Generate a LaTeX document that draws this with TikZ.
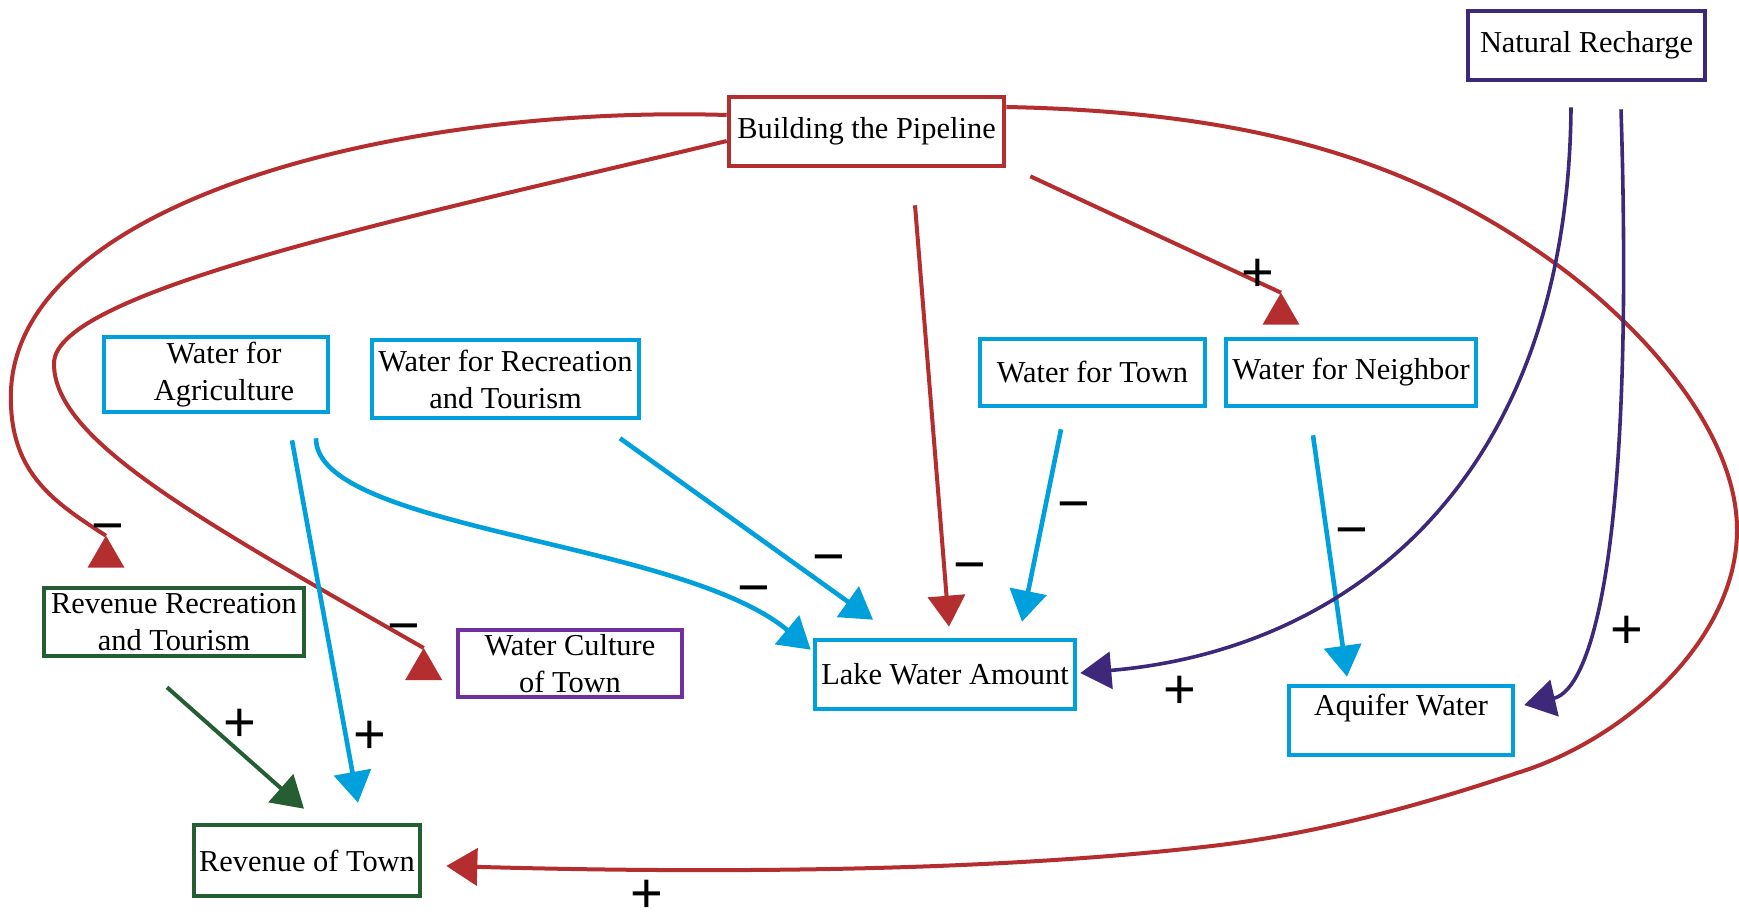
\documentclass[tikz,border=0pt]{standalone}
\usepackage{fontspec}
\setmainfont{Liberation Serif}
\newfontfamily\signfont{Liberation Sans}
\usetikzlibrary{arrows.meta,calc}

\definecolor{pipered}{RGB}{180,46,48}
\definecolor{lakeblue}{RGB}{0,160,220}
\definecolor{rechargeviolet}{RGB}{62,40,122}
\definecolor{revgreen}{RGB}{38,94,52}
\definecolor{culturepurple}{RGB}{112,48,160}

% upright triangular head sitting under the end of a connector
\newcommand\uptip[2]{\fill[#1] (#2) -- ++(-18.5,32) -- ++(37,0) -- cycle;}

\begin{document}
\begin{tikzpicture}[x=0.5pt,y=-0.5pt,
  box/.style={draw, line width=2.3pt, inner sep=0pt, align=center,
    font=\fontsize{15.2}{18.5}\selectfont},
  redlink/.style={line width=2pt, pipered},
  bluelink/.style={line width=2.3pt, lakeblue},
  violetlink/.style={line width=1.8pt, rechargeviolet},
  greenlink/.style={line width=2pt, revgreen},
  head/.style={-{Triangle[length=15.5pt,width=18.5pt]}},
  sign/.style={font=\signfont\fontsize{28}{28}\selectfont,
    text height=19.6pt, text depth=0pt, inner sep=0pt}
]
\fill[white] (0,0) rectangle (1739,915);
\useasboundingbox (0,0) rectangle (1739,915);

% ---- variables ----
\node[box, pipered, text=black, minimum width=137.5pt, minimum height=34.5pt]
  (pipe) at (866.5,131.5) {Building the Pipeline};
\node[box, rechargeviolet, text=black, minimum width=118.5pt, minimum height=34.5pt]
  (nat) at (1586.5,45.5) {Natural Recharge};
\node[box, lakeblue, text=black, minimum width=112pt, minimum height=37.5pt]
  (agri) at (216,374.5) {\hspace*{8pt}Water for\\\hspace*{8pt}Agriculture};
\node[box, lakeblue, text=black, minimum width=133.5pt, minimum height=39pt]
  (rect) at (505.5,379) {Water for Recreation\\and Tourism};
\node[box, lakeblue, text=black, minimum width=112.5pt, minimum height=33.5pt]
  (town) at (1092.5,372.5) {Water for Town};
\node[box, lakeblue, text=black, minimum width=125pt, minimum height=33.5pt]
  (neigh) at (1351,372.5) {Water for Neighbor};
\node[box, revgreen, text=black, minimum width=130pt, minimum height=34pt]
  (revrec) at (174,622) {Revenue Recreation\\and Tourism};
\node[box, culturepurple, text=black, minimum width=112pt, minimum height=33.5pt]
  (culture) at (570,663.5) {Water Culture\\of Town};
\node[box, lakeblue, text=black, minimum width=130pt, minimum height=34.5pt]
  (lake) at (945,674.5) {Lake Water Amount};
\node[box, lakeblue, text=black, minimum width=112pt, minimum height=34.5pt, text depth=16pt]
  (aquifer) at (1401,720.5) {Aquifer Water};
\node[box, revgreen, text=black, minimum width=113pt, minimum height=35.5pt]
  (revtown) at (307,860.5) {Revenue of Town};

% ---- connector ends ----
\coordinate (pipeW1) at ($(pipe.west)+(0,-16.5)$);
\coordinate (pipeW2) at ($(pipe.west)+(0,9.5)$);
\coordinate (pipeE)  at ($(pipe.east)+(0,-24.5)$);
\coordinate (pipeS)  at ($(pipe.south)+(48.5,37)$);
\coordinate (pipeSE) at ($(pipe.south east)+(24,8)$);
\coordinate (agriS1) at ($(agri.south)+(100,24)$);
\coordinate (agriS2) at ($(agri.south)+(76,26)$);
\coordinate (rectS)  at ($(rect.south)+(114.5,18)$);
\coordinate (townS)  at ($(town.south)+(-31.5,21)$);
\coordinate (neighS) at ($(neigh.south)+(-38,27)$);
\coordinate (neighN) at ($(neigh.north)+(-70,-44)$);
\coordinate (natS1)  at ($(nat.south)+(-15.5,25)$);
\coordinate (natS2)  at ($(nat.south)+(34.5,27)$);
\coordinate (revrecN) at ($(revrec.north)+(-68,-50)$);
\coordinate (revrecS) at ($(revrec.south)+(-7,29)$);
\coordinate (cultureW) at ($(culture.west)+(-32,-15.5)$);
\coordinate (lakeN1) at ($(lake.north)+(4,-11)$);
\coordinate (lakeNW) at ($(lake.north west)+(-2,12)$);
\coordinate (lakeN2) at ($(lake.north)+(-72,-18)$);
\coordinate (lakeN3) at ($(lake.north)+(77,-16)$);
\coordinate (lakeE)  at ($(lake.east)+(3,-1.5)$);
\coordinate (aqN)    at ($(aquifer.north)+(-54,-7)$);
\coordinate (aqE)    at ($(aquifer.east)+(9,-15.5)$);
\coordinate (rtN1)   at ($(revtown.north)+(51,-20)$);
\coordinate (rtN2)   at ($(revtown.north)+(-3,-14)$);
\coordinate (rtE)    at ($(revtown.east)+(24,5.5)$);

% ---- links from Building the Pipeline ----
\draw[redlink] (pipeW1) .. controls (400,105) and (20,200) .. (11,390)
  .. controls (8,470) and (50,500) .. (revrecN);
\uptip{pipered}{revrecN}
\draw[redlink] (pipeW2) .. controls (420,215) and (55,290) .. (54,363)
  .. controls (53,440) and (200,520) .. (cultureW);
\uptip{pipered}{cultureW}
\draw[redlink] (pipeSE) -- (neighN);
\uptip{pipered}{neighN}
\draw[redlink, head] (pipeS) -- (lakeN1);
\draw[redlink, head] (pipeE) .. controls (1256,112) and (1416,161) .. (1560,267)
  .. controls (1640,326) and (1737,430) .. (1737,530)
  .. controls (1737,640) and (1625,740) .. (1517,773)
  .. controls (1422,805) and (1319,833) .. (1220,845)
  .. controls (972,875) and (660,872) .. (rtE);

% ---- water uses ----
\draw[bluelink, head] (agriS1) .. controls (316,530) and (680,540) .. (lakeNW);
\draw[bluelink, head] (agriS2) -- (rtN1);
\draw[bluelink, head] (rectS) -- (lakeN2);
\draw[bluelink, head] (townS) -- (lakeN3);
\draw[bluelink, head] (neighS) -- (aqN);

% ---- recharge ----
\draw[violetlink, head] (natS1) .. controls (1568,480) and (1350,650) .. (lakeE);
\draw[violetlink, head] (natS2) .. controls (1635,560) and (1590,690) .. (aqE);

% ---- revenue ----
\draw[greenlink, head] (revrecS) -- (rtN2);

% ---- polarities ----
\node[sign] (p1)  at (108,525) {−};
\node[sign] (p2)  at (404,624.5) {−};
\node[sign] (p3)  at (1258,272) {+};
\node[sign] (p4)  at (829,556) {−};
\node[sign] (p5)  at (754,586.5) {−};
\node[sign] (p6)  at (969.5,564) {−};
\node[sign] (p7)  at (1074,502.5) {−};
\node[sign] (p8)  at (1351.5,529) {−};
\node[sign] (p9)  at (1179.5,688.5) {+};
\node[sign] (p10) at (1626.5,628.5) {+};
\node[sign] (p11) at (240,722) {+};
\node[sign] (p12) at (370,733.5) {+};
\node[sign] (p13) at (647,893) {+};
\end{tikzpicture}
\end{document}
